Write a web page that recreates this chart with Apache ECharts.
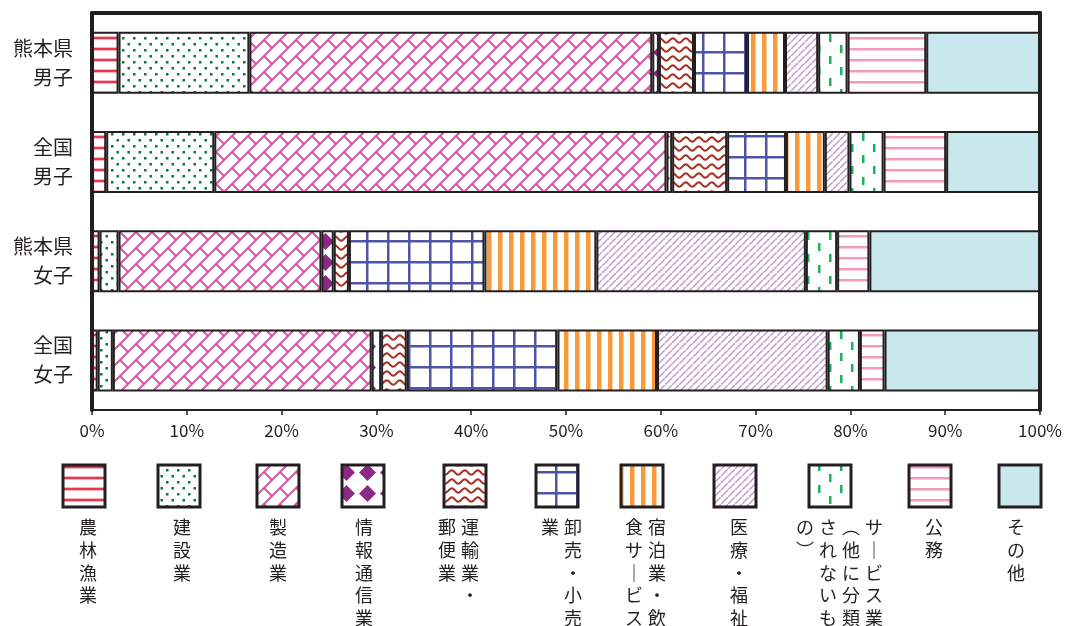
<!DOCTYPE html>
<html>
<head>
<meta charset="utf-8">
<script src="https://cdn.jsdelivr.net/npm/echarts@6/dist/echarts.min.js"></script>
<style>
html, body { margin: 0; padding: 0; background: #fff; }
#main { width: 1065px; height: 626px; }
</style>
</head>
<body>
<div id="main"></div>
<script>
// rows, top to bottom
const groups = ['熊本県\n男子', '全国\n男子', '熊本県\n女子', '全国\n女子'];
const industries = ['農林漁業', '建設業', '製造業', '情報通信業', '運輸業・郵便業', '卸売・小売業',
    '宿泊業・飲食サービス業', '医療・福祉', 'サービス業（他に分類されないもの）', '公務', 'その他'];
const ticks = [0, 10, 20, 30, 40, 50, 60, 70, 80, 90, 100];

// share of workers (%), same order as groups
const agriculture = [2.8, 1.5, 0.8, 0.6];
const construction = [13.8, 11.4, 2.0, 1.6];
const manufacturing = [42.5, 47.7, 21.4, 27.3];
const infoComm = [0.7, 0.6, 1.3, 1.0];
const transport = [3.7, 5.8, 1.6, 2.7];
const wholesale = [5.6, 6.2, 14.3, 15.9];
const hotelFood = [4.0, 4.1, 11.8, 10.5];
const medical = [3.5, 2.6, 22.1, 18.0];
const services = [3.1, 3.6, 3.3, 3.4];
const publicService = [8.3, 6.6, 3.4, 2.6];
const others = [12.0, 9.9, 18.0, 16.4];

const values = [agriculture, construction, manufacturing, infoComm, transport, wholesale,
    hotelFood, medical, services, publicService, others];

// vertical legend text, one string per column (right to left)
const legendColumns = [
    ['農林漁業'], ['建設業'], ['製造業'], ['情報通信業'], ['運輸業・', '郵便業'],
    ['卸売・小売', '業'], ['宿泊業・飲', '食サ｜ビス業'], ['医療・福祉'],
    ['サ｜ビス業', '︵他に分類', 'されないも', 'の︶'], ['公務'], ['その他']
];

const TEXT = '#231f20';
const FONT = '"Noto Sans CJK JP", "Noto Sans", sans-serif';

function makePattern(w, h, draw) {
    let c = document.createElement('canvas');
    c.width = w;
    c.height = h;
    let ctx = c.getContext('2d');
    ctx.fillStyle = '#fff';
    ctx.fillRect(0, 0, w, h);
    draw(ctx);
    return { image: c, repeat: 'repeat' };
}

const fills = [
    makePattern(10, 11, ctx => {
        ctx.fillStyle = '#f6b5bf';
        ctx.fillRect(0, 3, 10, 4);
        ctx.fillStyle = '#e8374f';
        ctx.fillRect(0, 4, 10, 2);
    }),
    makePattern(11, 12, ctx => {
        ctx.fillStyle = '#007a3d';
        ctx.fillRect(1, 1, 2.5, 2.5);
        ctx.fillRect(6.5, 7, 2.5, 2.5);
    }),
    makePattern(16, 16, ctx => {
        ctx.strokeStyle = '#d4579f';
        ctx.lineWidth = 2;
        ctx.beginPath();
        ctx.moveTo(-2, 18); ctx.lineTo(18, -2);
        ctx.moveTo(-2, 2); ctx.lineTo(2, -2);
        ctx.moveTo(14, 18); ctx.lineTo(18, 14);
        ctx.moveTo(8, 8); ctx.lineTo(16, 16);
        ctx.stroke();
    }),
    makePattern(21, 21, ctx => {
        ctx.fillStyle = '#8a2a85';
        ctx.beginPath();
        ctx.moveTo(10.5, 2); ctx.lineTo(19, 10.5); ctx.lineTo(10.5, 19); ctx.lineTo(2, 10.5);
        ctx.closePath();
        ctx.fill();
    }),
    makePattern(13, 9, ctx => {
        ctx.strokeStyle = '#a93226';
        ctx.lineWidth = 2;
        ctx.beginPath();
        for (let x = -1; x <= 14; x++) {
            let y = 4.5 + 2.2 * Math.sin(2 * Math.PI * x / 13);
            if (x === -1) ctx.moveTo(x, y); else ctx.lineTo(x, y);
        }
        ctx.stroke();
    }),
    makePattern(21, 21, ctx => {
        ctx.fillStyle = '#4e55a4';
        ctx.fillRect(0, 9, 21, 2.5);
        ctx.fillRect(9, 0, 2.5, 21);
    }),
    makePattern(11, 10, ctx => {
        ctx.fillStyle = '#f89a3a';
        ctx.fillRect(3, 0, 4.5, 10);
    }),
    makePattern(7, 7, ctx => {
        ctx.strokeStyle = '#c39bcb';
        ctx.lineWidth = 1.5;
        ctx.beginPath();
        ctx.moveTo(-1, 8); ctx.lineTo(8, -1);
        ctx.stroke();
    }),
    makePattern(22, 22, ctx => {
        ctx.fillStyle = '#1db35b';
        ctx.fillRect(4, 1, 2.5, 8);
        ctx.fillRect(15, 12, 2.5, 8);
    }),
    makePattern(10, 11, ctx => {
        ctx.fillStyle = '#f29bbf';
        ctx.fillRect(0, 4, 10, 2.5);
    }),
    '#c9e8ee'
];

// legend layout
const legendBoxX = [84, 179, 278, 363, 465, 557, 642, 735, 830, 930, 1020];
const legendTextX = [88, 182, 278, 364, 470, 573, 657, 739, 874, 934, 1016];

let graphics = [];
industries.forEach((name, i) => {
    graphics.push({
        type: 'rect',
        shape: { x: legendBoxX[i] - 21, y: 465, width: 42, height: 42 },
        style: { fill: fills[i], stroke: TEXT, lineWidth: 3 }
    });
    legendColumns[i].forEach((col, j) => {
        graphics.push({
            type: 'text',
            x: legendTextX[i] - j * 23,
            y: 516,
            style: {
                text: col.split('').join('\n'),
                font: '18px ' + FONT,
                fill: TEXT,
                align: 'center',
                verticalAlign: 'top',
                lineHeight: 22.7
            }
        });
    });
});

let option = {
    backgroundColor: '#fff',
    animation: false,
    grid: { left: 92, right: 22, top: 13, bottom: 216 },
    xAxis: [
        {
            type: 'value', min: 0, max: 100, interval: 10,
            axisLine: { show: true, onZero: false, lineStyle: { color: TEXT, width: 2 } },
            axisTick: { show: true, length: 5, lineStyle: { color: TEXT, width: 1.5 } },
            axisLabel: {
                formatter: v => ticks.indexOf(v) >= 0 ? v + '%' : '',
                color: TEXT, fontSize: 17, fontFamily: FONT, margin: 12
            },
            splitLine: { show: false }
        },
        {
            type: 'value', min: 0, max: 100, position: 'top',
            axisLine: { show: true, onZero: false, lineStyle: { color: TEXT, width: 4 } },
            axisTick: { show: false }, axisLabel: { show: false }, splitLine: { show: false }
        }
    ],
    yAxis: [
        {
            type: 'category', data: groups, inverse: true,
            axisLine: { show: true, onZero: false, lineStyle: { color: TEXT, width: 4 } },
            axisTick: { show: false },
            axisLabel: {
                color: TEXT, fontSize: 20, fontFamily: FONT, lineHeight: 29,
                align: 'right', margin: 19
            }
        },
        {
            type: 'value', min: 0, max: 1, position: 'right',
            axisLine: { show: true, onZero: false, lineStyle: { color: TEXT, width: 4 } },
            axisTick: { show: false }, axisLabel: { show: false }, splitLine: { show: false }
        }
    ],
    series: industries.map((name, i) => ({
        name: name,
        type: 'bar',
        stack: 'total',
        barWidth: 62,
        data: values[i],
        itemStyle: { color: fills[i], borderColor: TEXT, borderWidth: 2 }
    })),
    graphic: graphics
};

let myChart = echarts.init(document.getElementById('main'), null, { renderer: 'canvas', devicePixelRatio: 1 });
myChart.setOption(option);
</script>
</body>
</html>
